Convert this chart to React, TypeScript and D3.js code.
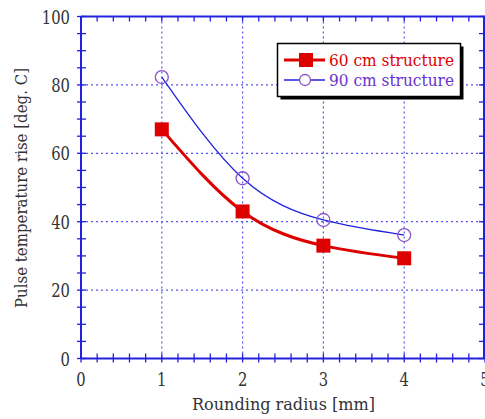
import React from "react";
import * as d3 from "d3";

const radius = [1, 2, 3, 4];
const series60 = [67, 43, 33, 29.3];
const series90 = [82.3, 52.7, 40.5, 36.1];
const xTicks = [0, 1, 2, 3, 4, 5];
const yTicks = [0, 20, 40, 60, 80, 100];
const legendLabels = ["60 cm structure", "90 cm structure"];
const xTitle = "Rounding radius [mm]";
const yTitle = "Pulse temperature rise [deg. C]";

const W = 485, H = 419;
const L = 81, R = 485, T = 16.5, B = 358.5;
const AX = "#2222dd";
const GRID = "#5555ee";
const RED = "#dd0000";
const FONT = "'DejaVu Serif', 'Liberation Serif', serif";
const DIGIT_W = 9.4;

export default function App() {
  const x = d3.scaleLinear().domain([0, 5]).range([L, R]);
  const y = d3.scaleLinear().domain([0, 100]).range([B, T]);
  const line = d3.line<number>().x((_, i) => x(radius[i])).y((d) => y(d)).curve(d3.curveNatural);
  const xMinor = d3.range(0, 5.0001, 0.2);
  const yMinor = d3.range(0, 100.0001, 5);
  return (
    <svg width={W} height={H} style={{ position: "absolute", left: 0, top: 0, background: "#fff" }} fontFamily={FONT}>
      {xTicks.slice(1, 5).map((t) => (
        <line key={"gx" + t} x1={x(t)} x2={x(t)} y1={T} y2={B} stroke={GRID} strokeWidth={1.2} strokeDasharray="2,3" />
      ))}
      {yTicks.slice(1, 5).map((t) => (
        <line key={"gy" + t} x1={L} x2={R} y1={y(t)} y2={y(t)} stroke={GRID} strokeWidth={1.2} strokeDasharray="2,3" />
      ))}
      <line x1={L} x2={R} y1={B} y2={B} stroke={AX} strokeWidth={2} />
      <line x1={L} x2={R} y1={T} y2={T} stroke={AX} strokeWidth={2} />
      <line x1={L} x2={L} y1={T} y2={B} stroke={AX} strokeWidth={2} />
      <line x1={R - 1} x2={R - 1} y1={T} y2={B} stroke={AX} strokeWidth={2} />
      {xMinor.map((t, i) => (
        <g key={"xm" + i}>
          <line x1={x(t)} x2={x(t)} y1={B - 5} y2={B + 4} stroke={AX} strokeWidth={1.3} />
          <line x1={x(t)} x2={x(t)} y1={T} y2={T + 5} stroke={AX} strokeWidth={1.3} />
        </g>
      ))}
      {yMinor.map((t, i) => (
        <g key={"ym" + i}>
          <line x1={L - 4} x2={L + 5} y1={y(t)} y2={y(t)} stroke={AX} strokeWidth={1.3} />
          <line x1={R - 6} x2={R} y1={y(t)} y2={y(t)} stroke={AX} strokeWidth={1.3} />
        </g>
      ))}
      {xTicks.map((t) => (
        <text key={"xl" + t} x={x(t)} y={385.5} textAnchor="middle" fontSize={18} fill="#333"
          textLength={DIGIT_W * String(t).length} lengthAdjust="spacingAndGlyphs">{t}</text>
      ))}
      {yTicks.map((t) => (
        <text key={"yl" + t} x={70} y={y(t) + 7} textAnchor="end" fontSize={18} fill="#333"
          textLength={DIGIT_W * String(t).length} lengthAdjust="spacingAndGlyphs">{t}</text>
      ))}
      <text x={283.5} y={410} textAnchor="middle" fontSize={17} fill="#333"
        textLength={183} lengthAdjust="spacingAndGlyphs">{xTitle}</text>
      <text transform={`translate(27,188) rotate(-90)`} textAnchor="middle" fontSize={17} fill="#333"
        textLength={240} lengthAdjust="spacingAndGlyphs">{yTitle}</text>
      <path d={line(series90) || ""} fill="none" stroke={AX} strokeWidth={1.3} />
      <path d={line(series60) || ""} fill="none" stroke={RED} strokeWidth={3} />
      {series90.map((v, i) => (
        <circle key={"c" + i} cx={x(radius[i])} cy={y(v)} r={6.5} fill="none" stroke="#8855cc" strokeWidth={1.3} />
      ))}
      {series60.map((v, i) => (
        <rect key={"s" + i} x={x(radius[i]) - 7} y={y(v) - 7} width={14} height={14} fill={RED} />
      ))}
      <rect x={280.5} y={46.5} width={183} height={53} fill="#000" />
      <rect x={277.5} y={43.5} width={183} height={53} fill="#fff" stroke="#000" strokeWidth={1.5} />
      <line x1={284} x2={325} y1={60} y2={60} stroke={RED} strokeWidth={3} />
      <rect x={299} y={53} width={14} height={14} fill={RED} />
      <text x={329} y={66} fontSize={17} fill={RED} textLength={125} lengthAdjust="spacingAndGlyphs">{legendLabels[0]}</text>
      <line x1={284} x2={325} y1={80} y2={80} stroke={AX} strokeWidth={1.3} />
      <circle cx={305} cy={80} r={5.5} fill="#fff" stroke="#8855cc" strokeWidth={1.3} />
      <text x={329} y={86} fontSize={17} fill="#6633cc" textLength={125} lengthAdjust="spacingAndGlyphs">{legendLabels[1]}</text>
    </svg>
  );
}
